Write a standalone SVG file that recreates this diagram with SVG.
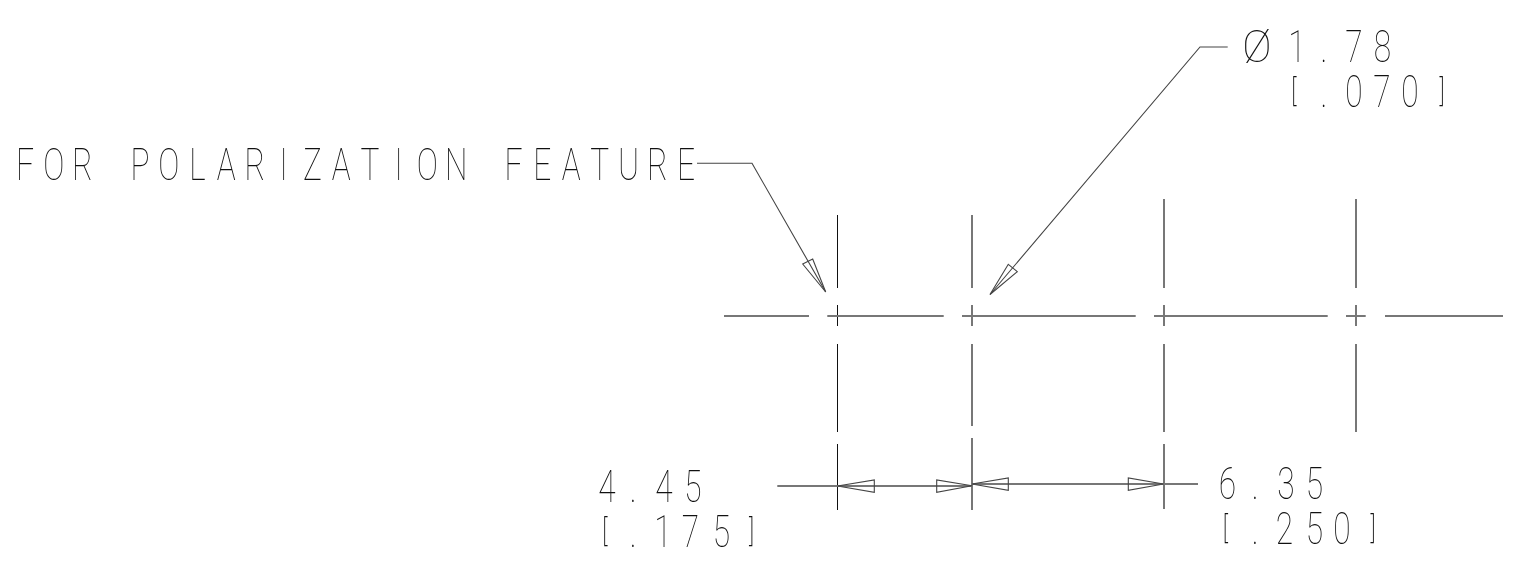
<svg xmlns="http://www.w3.org/2000/svg" width="1527" height="562" viewBox="0 0 1527 562">
<style>
.g{fill:none;stroke:#777;stroke-width:2}
.k{fill:none;stroke:#111;stroke-width:1}
.l{fill:none;stroke:#444;stroke-width:1.1}
.t{font-family:Roboto,"Liberation Sans",sans-serif;font-weight:100;font-size:44px;fill:#111;text-anchor:middle}
.b{font-size:32px;font-weight:200}
</style>
<defs><filter id="gray" x="0" y="0" width="1" height="1" filterUnits="objectBoundingBox" color-interpolation-filters="sRGB"><feOffset dx="0" dy="0"/></filter></defs>
<rect width="1527" height="562" fill="#fff"/>
<g id="centerlines">
<path class="k" d="M837.5 215V288M837.5 305V326M837.5 344V432M837.5 444V510"/>
<path class="g" d="M972 215V288M972 305V326M972 344V426M972 438V510"/>
<path class="g" d="M1164 199V288M1164 305V326M1164 344V432M1164 444V509"/>
<path class="g" d="M1356 199V288M1356 305V326M1356 344V432"/>
<path class="g" d="M724 316H809M827.3 316H943.7M962 316H1135.7M1154 316H1327.7M1346 316H1365.7M1385 316H1503"/>
</g>
<g id="connectors">
<path class="l" d="M697 163.3H752L825.7 292"/>
<path class="l" d="M802.7 264L812.7 259L825.7 292Z"/>
<path class="l" d="M1227.7 47H1200L990 294.5"/>
<path class="l" d="M1008.3 264.3L1017.3 271.7L990 294.5Z"/>
<path class="g" d="M777.3 486H972"/>
<path class="g" d="M972 484H1198"/>
<path class="l" d="M837.5 486L874.3 480V492.3Z"/>
<path class="l" d="M972 485.7L936.7 480V492.3Z"/>
<path class="l" d="M972 484L1008.3 478V490.3Z"/>
<path class="l" d="M1163.5 484L1128.3 478V490.3Z"/>
</g>
<g id="labels" filter="url(#gray)">
<text class="t" x="1257" y="61.7">Ø</text>
<g transform="scale(.72,1)">
<text class="t" y="180" x="34.7 74.6 114.5 154.5 194.4 234.3 274.2 314.1 354.1 394 433.9 473.8 513.7 553.7 593.6 633.5 674 713.3 753.3 793.2 833.1 873 912.9 952.9">FOR POLARIZATION FEATURE</text>
<text class="t" y="61.7" x="1801.4 1838.9 1880.6 1920.1">1.78</text>
<text class="t" y="106.7"><tspan class="b" x="1797" y="100.7">[</tspan><tspan x="1838.9 1880.6 1919.4 1958.3" y="106.7">.070</tspan><tspan class="b" x="2003" y="100.7">]</tspan></text>
<text class="t" y="501.7" x="843 879.2 922.2 962.5">4.45</text>
<text class="t" y="546.7"><tspan class="b" x="840" y="540.7">[</tspan><tspan x="879.2 920.8 959 1002" y="546.7">.175</tspan><tspan class="b" x="1044" y="540.7">]</tspan></text>
<text class="t" y="499.3" x="1704.9 1743.1 1786.1 1825.7">6.35</text>
<text class="t" y="544.3"><tspan class="b" x="1702" y="538.3">[</tspan><tspan x="1743.1 1784 1825.7 1863.9" y="544.3">.250</tspan><tspan class="b" x="1907" y="538.3">]</tspan></text>
</g>
</g>
</svg>
